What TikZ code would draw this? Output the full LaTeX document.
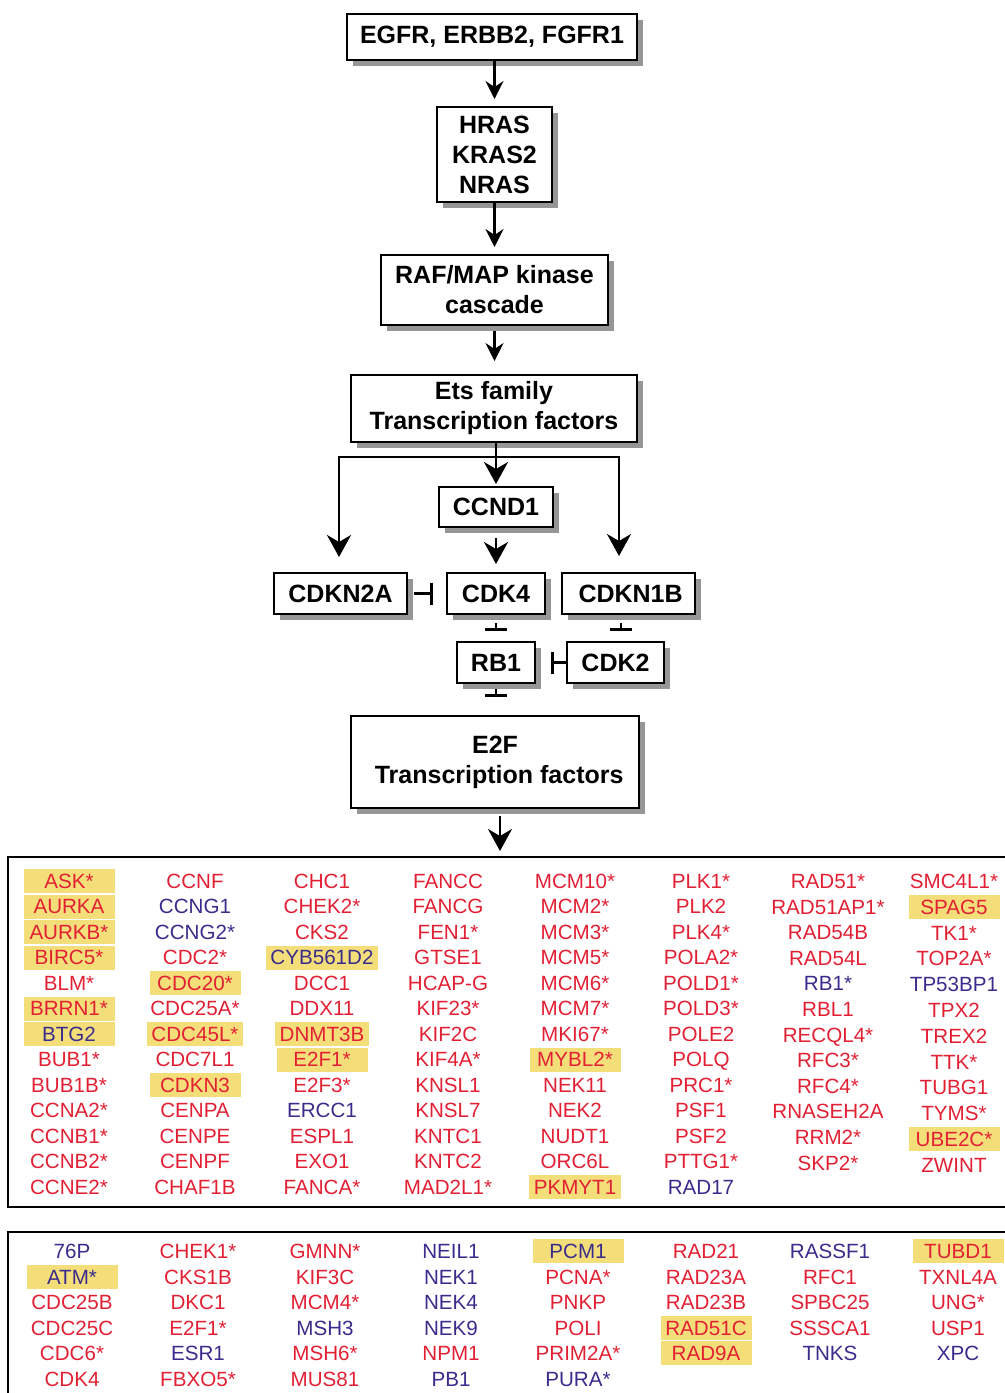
\documentclass[tikz,border=0pt]{standalone}
\usepackage{fontspec}
\setmainfont{Liberation Sans}
\usetikzlibrary{arrows.meta,shadows,positioning}
\definecolor{gener}{RGB}{226,32,52}
\definecolor{geneb}{RGB}{58,44,140}
\definecolor{hilite}{RGB}{244,222,122}
\definecolor{shade}{RGB}{150,150,150}
\tikzset{
  flowbox/.style={draw, line width=1pt, fill=white, align=center, inner sep=0pt,
    font=\fontsize{12.5}{15}\selectfont\bfseries,
    drop shadow={shadow xshift=3pt, shadow yshift=-3pt, fill=shade, opacity=1}},
  gene/.style={font=\fontsize{10.3}{12}\selectfont, inner xsep=2.3pt, inner ysep=0pt,
    minimum width=45.5pt, minimum height=12pt, text height=7.4pt, text depth=0pt},
  big/.style={-{Stealth[length=11pt,width=12pt,inset=3.5pt]}, line width=1.1pt},
  inhib/.style={-{Bar[width=11pt,line width=1.6pt]}, line width=1.1pt},
}
\newcommand\genecol[5]{%
  \foreach \g/\c/\h [count=\i from 0] in {#5}
    \node[gene, fill=\h, text=gene\c] (#1\i) at (#2, #3+#4*\i) {\g};}
\begin{document}
\begin{tikzpicture}[x=0.5pt, y=-0.5pt, >={Stealth[length=9pt,width=9pt,inset=3pt]}]
  \useasboundingbox (0,0) rectangle (1005,1393);
  \node[flowbox, minimum width=145pt, minimum height=23pt] (egfr) at (492,37) {EGFR, ERBB2, FGFR1};
  \node[flowbox, minimum width=57.5pt, minimum height=47.5pt] (ras) at (494.5,154.5) {HRAS\\KRAS2\\NRAS};
  \node[flowbox, minimum width=113.5pt, minimum height=35pt] (raf) at (494.5,290) {RAF/MAP kinase\\cascade};
  \node[flowbox, minimum width=143pt, minimum height=33.5pt] (ets) at (494,408.5) {Ets family\\Transcription factors};
  \node[flowbox, minimum width=57pt, minimum height=20pt] (ccnd1) at (496,507) {CCND1};
  \node[flowbox, minimum width=66.5pt, minimum height=20.5pt] (cdkn2a) at (340.5,593.5) {CDKN2A};
  \node[flowbox, minimum width=49pt, minimum height=20.5pt] (cdk4) at (496,593.5) {CDK4};
  \node[flowbox, minimum width=66.5pt, minimum height=20.5pt] (cdkn1b) at (628.5,593.5) {\,CDKN1B};
  \node[flowbox, minimum width=39pt, minimum height=20.5pt] (rb1) at (496,662.5) {RB1};
  \node[flowbox, minimum width=48.5pt, minimum height=20.5pt] (cdk2) at (615.5,662.5) {CDK2};
  \node[flowbox, minimum width=144pt, minimum height=46pt] (e2f) at (495,762) {E2F\\\,\,Transcription factors};

  \draw[->, line width=1.1pt, shorten >=3.5pt] (egfr.south -| ras.north) -- (ras.north);
  \draw[->, line width=1.1pt, shorten >=3.5pt] (ras.south) -- (raf.north);
  \draw[->, line width=1.1pt, shorten <=2.5pt, shorten >=6.5pt] (raf.south) -- (ets.north -| raf.south);
  \draw[big, shorten >=1pt] (ccnd1.north |- ets.south) -- (ccnd1.north);
  \coordinate (split) at (496,457);
  \coordinate (lft) at (339,457);
  \coordinate (rgt) at (619,457);
  \draw[big, shorten >=7.5pt] (split) -- (lft) -- (lft |- cdkn2a.north);
  \draw[big, shorten >=8pt] (split) -- (rgt) -- (rgt |- cdkn1b.north);
  \draw[big, shorten <=5pt, shorten >=4pt] (ccnd1.south) -- (cdk4.north);
  \draw[inhib, shorten <=3pt, shorten >=6.5pt] (cdkn2a.east) -- (cdk4.west);
  \draw[inhib, shorten <=4pt, shorten >=5pt] (cdk4.south) -- (rb1.north);
  \coordinate (k2) at (621,642);
  \draw[inhib, shorten <=4pt, shorten >=5.5pt] (k2 |- cdkn1b.south) -- (k2);
  \draw[inhib, shorten >=7.5pt] (cdk2.west) -- (rb1.east);
  \draw[inhib, shorten <=2.5pt, shorten >=9pt] (rb1.south) -- (rb1.south |- e2f.north);
  \coordinate (list) at (500,857);
  \draw[big, shorten <=3.5pt, shorten >=3pt] (e2f.south -| list) -- (list);

  \draw[line width=1.2pt] (8,857) rectangle (1015,1207);
  \draw[line width=1.4pt] (8,1232) rectangle (1015,1400);

  \genecol{a}{69}{881}{25.5}{ASK*/r/hilite, AURKA/r/hilite, AURKB*/r/hilite, BIRC5*/r/hilite, BLM*/r/none,
    BRRN1*/r/hilite, BTG2/b/hilite, BUB1*/r/none, BUB1B*/r/none, CCNA2*/r/none, CCNB1*/r/none,
    CCNB2*/r/none, CCNE2*/r/none}
  \genecol{b}{195}{881}{25.5}{CCNF/r/none, CCNG1/b/none, CCNG2*/b/none, CDC2*/r/none, CDC20*/r/hilite,
    CDC25A*/r/none, CDC45L*/r/hilite, CDC7L1/r/none, CDKN3/r/hilite, CENPA/r/none, CENPE/r/none,
    CENPF/r/none, CHAF1B/r/none}
  \genecol{c}{322}{881}{25.5}{CHC1/r/none, CHEK2*/r/none, CKS2/r/none, CYB561D2/b/hilite, DCC1/r/none,
    DDX11/r/none, DNMT3B/r/hilite, E2F1*/r/hilite, E2F3*/r/none, ERCC1/b/none, ESPL1/r/none,
    EXO1/r/none, FANCA*/r/none}
  \genecol{d}{448}{881}{25.5}{FANCC/r/none, FANCG/r/none, FEN1*/r/none, GTSE1/r/none, HCAP-G/r/none,
    KIF23*/r/none, KIF2C/r/none, KIF4A*/r/none, KNSL1/r/none, KNSL7/r/none, KNTC1/r/none,
    KNTC2/r/none, MAD2L1*/r/none}
  \genecol{e}{575}{881}{25.5}{MCM10*/r/none, MCM2*/r/none, MCM3*/r/none, MCM5*/r/none, MCM6*/r/none,
    MCM7*/r/none, MKI67*/r/none, MYBL2*/r/hilite, NEK11/r/none, NEK2/r/none, NUDT1/r/none,
    ORC6L/r/none, PKMYT1/r/hilite}
  \genecol{f}{701}{881}{25.5}{PLK1*/r/none, PLK2/r/none, PLK4*/r/none, POLA2*/r/none, POLD1*/r/none,
    POLD3*/r/none, POLE2/r/none, POLQ/r/none, PRC1*/r/none, PSF1/r/none, PSF2/r/none,
    PTTG1*/r/none, RAD17/b/none}
  \genecol{g}{828}{881}{25.6}{RAD51*/r/none, RAD51AP1*/r/none, RAD54B/r/none, RAD54L/r/none, RB1*/b/none,
    RBL1/r/none, RECQL4*/r/none, RFC3*/r/none, RFC4*/r/none, RNASEH2A/r/none, RRM2*/r/none,
    SKP2*/r/none}
  \genecol{h}{954}{881}{25.8}{SMC4L1*/r/none, SPAG5/r/hilite, TK1*/r/none, TOP2A*/r/none, TP53BP1/b/none,
    TPX2/r/none, TREX2/r/none, TTK*/r/none, TUBG1/r/none, TYMS*/r/none, UBE2C*/r/hilite,
    ZWINT/r/none}

  \genecol{p}{72}{1251}{25.6}{76P/b/none, ATM*/b/hilite, CDC25B/r/none, CDC25C/r/none, CDC6*/r/none, CDK4/r/none}
  \genecol{q}{198}{1251}{25.6}{CHEK1*/r/none, CKS1B/r/none, DKC1/r/none, E2F1*/r/none, ESR1/b/none, FBXO5*/r/none}
  \genecol{r}{325}{1251}{25.6}{GMNN*/r/none, KIF3C/r/none, MCM4*/r/none, MSH3/b/none, MSH6*/r/none, MUS81/r/none}
  \genecol{s}{451}{1251}{25.6}{NEIL1/b/none, NEK1/b/none, NEK4/b/none, NEK9/b/none, NPM1/r/none, PB1/b/none}
  \genecol{t}{578}{1251}{25.6}{PCM1/b/hilite, PCNA*/r/none, PNKP/r/none, POLI/r/none, PRIM2A*/r/none, PURA*/b/none}
  \genecol{u}{706}{1251}{25.6}{RAD21/r/none, RAD23A/r/none, RAD23B/r/none, RAD51C/r/hilite, RAD9A/r/hilite}
  \genecol{v}{830}{1251}{25.6}{RASSF1/b/none, RFC1/r/none, SPBC25/r/none, SSSCA1/r/none, TNKS/b/none}
  \genecol{w}{958}{1251}{25.6}{TUBD1/r/hilite, TXNL4A/r/none, UNG*/r/none, USP1/r/none, XPC/b/none}
\end{tikzpicture}
\end{document}
